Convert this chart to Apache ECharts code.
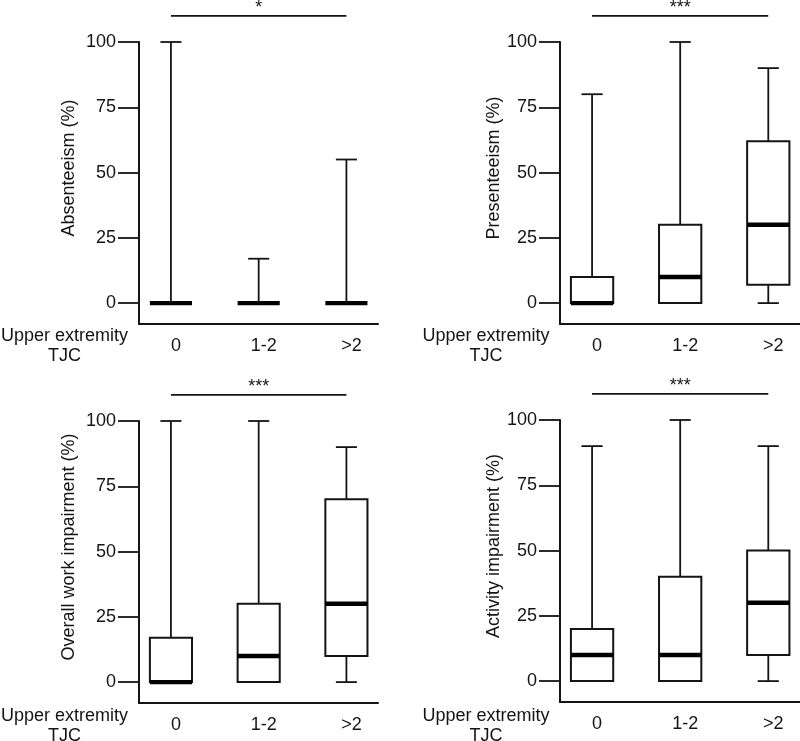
<!DOCTYPE html>
<html>
<head>
<meta charset="utf-8">
<script src="https://cdn.jsdelivr.net/npm/echarts@6/dist/echarts.min.js"></script>
<style>
  html, body { margin: 0; padding: 0; background: #fff; }
  #main { width: 800px; height: 741px; }
</style>
</head>
<body>
<div id="main"></div>
<script>
// categories of upper extremity TJC
const categories = ['0', '1-2', '>2'];
// each row: [min, q1, median, q3, max]
const absenteeism = [[0, 0, 0, 0, 100], [0, 0, 0, 0, 17], [0, 0, 0, 0, 55]];
const presenteeism = [[0, 0, 0, 10, 80], [0, 0, 10, 30, 100], [0, 7, 30, 62, 90]];
const overallWork = [[0, 0, 0, 17, 100], [0, 0, 10, 30, 100], [0, 10, 30, 70, 90]];
const activity = [[0, 0, 10, 20, 90], [0, 0, 10, 40, 100], [0, 10, 30, 50, 90]];
const yTicks = [0, 25, 50, 75, 100];
const stars = ['*', '***', '***', '***'];
const yNames = ['Absenteeism (%)', 'Presenteeism (%)', 'Overall work impairment (%)', 'Activity impairment (%)'];

const panels = [absenteeism, presenteeism, overallWork, activity];
const FONT = '"Liberation Sans", Arial, Helvetica, sans-serif';
const INK = '#141414';

const grids = [
  { left: 139, top: 42, width: 239, height: 282 },
  { left: 560, top: 42, width: 240, height: 282 },
  { left: 139, top: 421, width: 239, height: 282 },
  { left: 560, top: 420, width: 240, height: 282 }
];

function renderBox(params, api) {
  const x = api.value(0);
  const mn = api.value(1), q1 = api.value(2), md = api.value(3), q3 = api.value(4), mx = api.value(5);
  const c = v => api.coord([x, v]);
  const bw = api.size([1, 0])[0];
  const half = bw * 0.24, cap = bw * 0.12;
  const cx = c(md)[0];
  const line = { stroke: INK, lineWidth: 1.8 };
  const kids = [];
  if (mx > q3) {
    kids.push({ type: 'line', shape: { x1: cx, y1: c(q3)[1], x2: cx, y2: c(mx)[1] }, style: line });
    kids.push({ type: 'line', shape: { x1: cx - cap, y1: c(mx)[1], x2: cx + cap, y2: c(mx)[1] }, style: line });
  }
  if (mn < q1) {
    kids.push({ type: 'line', shape: { x1: cx, y1: c(q1)[1], x2: cx, y2: c(mn)[1] }, style: line });
    kids.push({ type: 'line', shape: { x1: cx - cap, y1: c(mn)[1], x2: cx + cap, y2: c(mn)[1] }, style: line });
  }
  if (q3 > q1) {
    kids.push({
      type: 'rect',
      shape: { x: cx - half, y: c(q3)[1], width: half * 2, height: c(q1)[1] - c(q3)[1] },
      style: { fill: '#fff', stroke: INK, lineWidth: 2 }
    });
  }
  kids.push({
    type: 'rect',
    shape: { x: cx - half, y: c(md)[1] - 2.2, width: half * 2, height: 4.4 },
    style: { fill: '#000' }
  });
  return { type: 'group', children: kids };
}

function renderBracket(params, api) {
  const p1 = api.coord([api.value(0), api.value(2)]);
  const p2 = api.coord([api.value(1), api.value(2)]);
  return {
    type: 'group',
    children: [
      { type: 'line', shape: { x1: p1[0], y1: p1[1], x2: p2[0], y2: p2[1] }, style: { stroke: INK, lineWidth: 1.6 } },
      {
        type: 'text',
        style: {
          text: stars[params.seriesIndex - 4],
          x: (p1[0] + p2[0]) / 2, y: p1[1] - 8,
          fill: INK, font: '18px ' + FONT, align: 'center', verticalAlign: 'middle'
        }
      }
    ]
  };
}

const xAxes = grids.map((g, i) => ({
  type: 'value', gridIndex: i, min: 0.636, max: 3.36,
  axisLine: { onZero: false, lineStyle: { color: INK, width: 2 } },
  axisTick: { show: false },
  splitLine: { show: false },
  axisLabel: {
    customValues: [1, 2, 3],
    formatter: v => categories[Math.round(v) - 1],
    color: INK, fontSize: 18, fontFamily: FONT, margin: 13, padding: [0, 0, 0, 10]
  }
}));

const yAxes = grids.map((g, i) => ({
  type: 'value', gridIndex: i, min: -8, max: 100,
  axisLine: { show: true, onZero: false, lineStyle: { color: INK, width: 2 } },
  axisTick: { show: true, customValues: yTicks, length: 21, lineStyle: { color: INK, width: 1.8 } },
  splitLine: { show: false },
  axisLabel: { customValues: yTicks, color: INK, fontSize: 18, fontFamily: FONT, margin: 23 }
}));

const boxSeries = panels.map((rows, i) => ({
  type: 'custom', xAxisIndex: i, yAxisIndex: i,
  renderItem: renderBox,
  encode: { x: 0, y: [1, 2, 3, 4, 5] },
  data: rows.map((r, k) => [k + 1].concat(r))
}));

const bracketSeries = panels.map((rows, i) => ({
  type: 'custom', xAxisIndex: i, yAxisIndex: i, clip: false,
  renderItem: renderBracket,
  encode: { x: [0, 1], y: 2 },
  data: [[1, 3, 110]]
}));

const nameSpots = [[69, 168], [494, 168], [69, 547], [494, 546]];
const xTitleSpots = [[64.5, 346.5], [486, 346.5], [64.5, 726], [486, 726]];

const graphic = [];
nameSpots.forEach((p, i) => {
  graphic.push({
    type: 'text', x: p[0], y: p[1], rotation: Math.PI / 2,
    style: { text: yNames[i], fill: INK, font: '18px ' + FONT, align: 'center', verticalAlign: 'middle' }
  });
});
xTitleSpots.forEach(p => {
  graphic.push({
    type: 'text', x: p[0], y: p[1],
    style: { text: 'Upper extremity\nTJC', fill: INK, font: '18px ' + FONT, lineHeight: 20, align: 'center', verticalAlign: 'middle' }
  });
});

const chart = echarts.init(document.getElementById('main'));
chart.setOption({
  backgroundColor: '#fff',
  animation: false,
  grid: grids,
  xAxis: xAxes,
  yAxis: yAxes,
  series: boxSeries.concat(bracketSeries),
  graphic: graphic
});
</script>
</body>
</html>
